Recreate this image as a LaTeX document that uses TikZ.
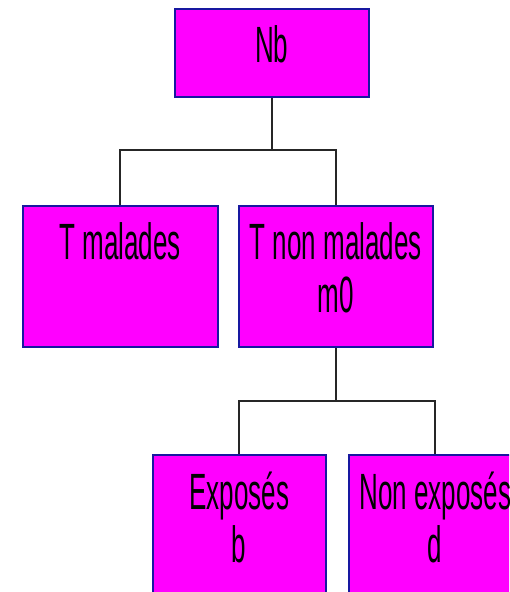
\documentclass[tikz,border=0pt]{standalone}
\usepackage{fontspec}
\setmainfont[FakeStretch=0.51]{Liberation Sans}
\definecolor{boxblue}{RGB}{24,24,160}
\definecolor{boxfill}{RGB}{255,0,255}
\begin{document}
\begin{tikzpicture}[x=1pt,y=-1pt,
  box/.style={draw=boxblue, fill=boxfill, line width=2.4pt, inner sep=0pt, anchor=north west},
  txt/.style={font=\fontsize{51}{53}\selectfont, align=center, inner sep=0pt, anchor=north},
  wire/.style={line width=2pt, draw=black!85}]
\useasboundingbox (0,0) rectangle (509,592);
\clip (0,0) rectangle (509,592);
\node[box, minimum width=194pt, minimum height=88pt] (nb) at (173.5,7.5) {};
\node[box, minimum width=195pt, minimum height=141pt] (tm) at (21.5,204.5) {};
\node[box, minimum width=194pt, minimum height=141pt] (tnm) at (237.5,204.5) {};
\node[box, minimum width=173pt, minimum height=160pt] (exp) at (151.5,453.5) {};
\node[box, minimum width=173pt, minimum height=160pt] (nexp) at (347.5,453.5) {};
\node[txt] (nbt) at ([yshift=-18pt]nb.north) {Nb};
\node[txt] (tmt) at ([yshift=-18pt]tm.north) {T malades};
\node[txt] (tnmt) at ([yshift=-18pt]tnm.north) {T non malades\\m0};
\node[txt] (expt) at ([yshift=-18pt]exp.north) {Exposés\\b};
\node[txt] (nexpt) at ([yshift=-18pt]nexp.north) {Non exposés\\d};
\coordinate (j1) at (nb.south |- 0,150);
\coordinate (j2) at (tnm.south |- 0,401);
\draw[wire] (nb.south) -- (j1);
\draw[wire] (tm.north) |- (j1) -| (tnm.north);
\draw[wire] (tnm.south) -- (j2);
\draw[wire] (exp.north) |- (j2) -| (nexp.north);
\end{tikzpicture}
\end{document}
